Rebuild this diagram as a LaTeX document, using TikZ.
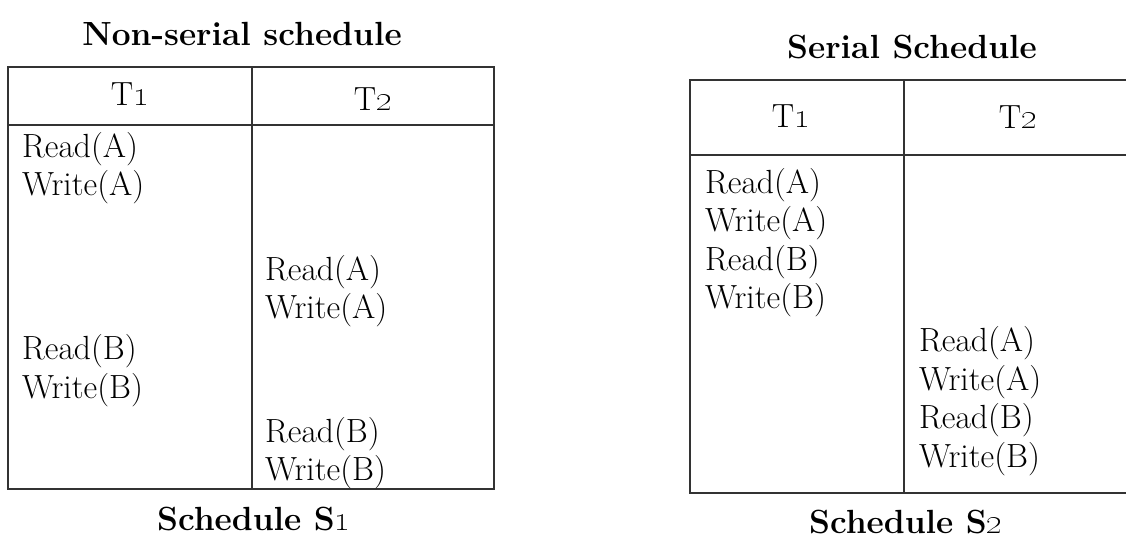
\documentclass[tikz,border=0pt]{standalone}
\begin{document}
\begin{tikzpicture}[x=1pt,y=-1pt,
  cell/.style={anchor=base west,inner sep=0pt,font=\fontsize{33.5}{40}\selectfont},
  head/.style={anchor=base,inner sep=0pt,font=\fontsize{33.5}{40}\selectfont},
  title/.style={anchor=base,inner sep=0pt,font=\fontsize{33.5}{40}\selectfont\bfseries},
  grid/.style={line width=2pt,draw=black!80}]
\useasboundingbox (0,0) rectangle (1126,541);
% Schedule S1 (non-serial)
\node[title] (nstitle) at (242,45) {Non-serial schedule};
\draw[grid] (8,67) rectangle (494,489);
\draw[grid] (8,125) -- (494,125);
\draw[grid] (252,67) -- (252,489);
\node[head] (nsta) at (130,105) {T\oldstylenums{1}};
\node[head] (nstb) at (373,110) {T\oldstylenums{2}};
\node[cell] (nsra) at (22,157) {Read(A)};
\node[cell] (nswa) at (22,195) {Write(A)};
\node[cell] (nsrb) at (22,359) {Read(B)};
\node[cell] (nswb) at (22,398) {Write(B)};
\node[cell] (nsrc) at (265,280) {Read(A)};
\node[cell] (nswc) at (265,318) {Write(A)};
\node[cell] (nsrd) at (265,442) {Read(B)};
\node[cell] (nswd) at (265,480) {Write(B)};
\node[title] (nscap) at (254,530) {Schedule S\oldstylenums{1}};
% Schedule S2 (serial)
\node[title] (stitle) at (912,58) {Serial Schedule};
\draw[grid] (1130,80) -- (690,80) -- (690,493) -- (1130,493);
\draw[grid] (690,155) -- (1130,155);
\draw[grid] (904,80) -- (904,493);
\node[head] (sta) at (791,127) {T\oldstylenums{1}};
\node[head] (stb) at (1018,128) {T\oldstylenums{2}};
\node[cell] (sra) at (705,193) {Read(A)};
\node[cell] (swa) at (705,231) {Write(A)};
\node[cell] (srb) at (705,270) {Read(B)};
\node[cell] (swb) at (705,308) {Write(B)};
\node[cell] (src) at (919,351) {Read(A)};
\node[cell] (swc) at (919,390) {Write(A)};
\node[cell] (srd) at (919,428) {Read(B)};
\node[cell] (swd) at (919,467) {Write(B)};
\node[title] (scap) at (906,533) {Schedule S\oldstylenums{2}};
\end{tikzpicture}
\end{document}
